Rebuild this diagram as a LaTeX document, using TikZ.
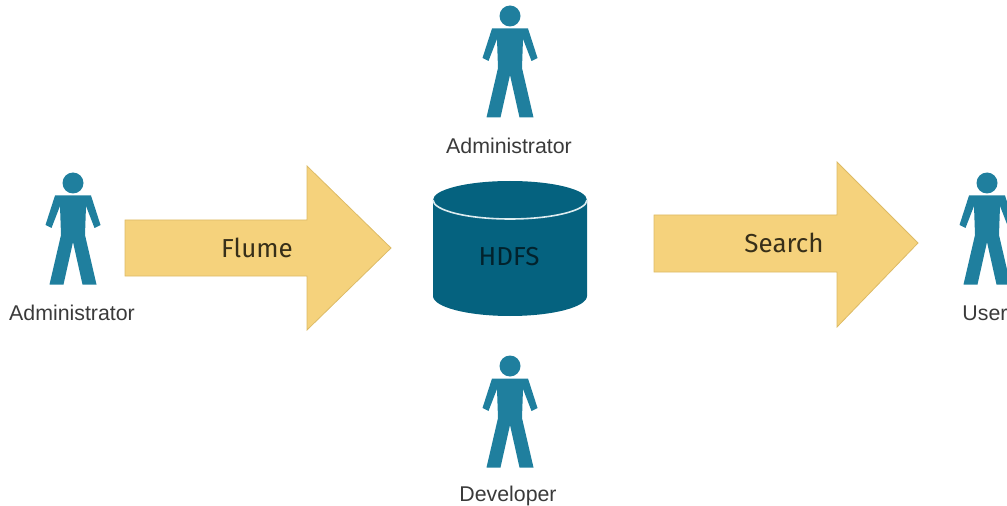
\documentclass[tikz,border=0pt]{standalone}
\usepackage{fontspec}
\setmainfont{Liberation Sans}
\newfontfamily\labelfont{Fira Sans}
\definecolor{persontone}{HTML}{1F7F9E}
\definecolor{drumtone}{HTML}{05627F}
\definecolor{arrowfill}{HTML}{F5D27C}
\definecolor{arrowline}{HTML}{DDBB66}
\definecolor{captiontone}{HTML}{3A3A3A}
\tikzset{
  person/.pic={
    \fill[persontone] (0,0) circle (10.5);
    \fill[persontone] (-18,12.5) -- (18,12.5) -- (27.5,42) -- (21.5,45) -- (13,23)
      -- (12,52) -- (23.5,101.5) -- (9.5,101.5) -- (0,59) -- (-9.5,101.5) -- (-23.5,101.5) -- (-12,52) -- (-13,23)
      -- (-21.5,45) -- (-27.5,42) -- cycle;
  },
  caption/.style={font=\fontsize{16}{18}\selectfont, text=captiontone, inner sep=0pt},
  flowtext/.style={font=\labelfont\fontsize{19.5}{22}\selectfont, text=black!75!arrowline, inner sep=0pt},
  flowarrow/.style={fill=arrowfill, draw=arrowline, line width=0.6pt, line join=miter}
}
\begin{document}
\begin{tikzpicture}[x=0.75pt, y=-0.75pt]
  \useasboundingbox (0,0) rectangle (1007,506);
  % people
  \pic at (73,183) {person};
  \pic at (510,16) {person};
  \pic at (510,366) {person};
  \begin{scope}
    \clip (0,0) rectangle (1007,506);
    \pic at (987,183) {person};
  \end{scope}
  \node[caption] (adminleft) at (72,313) {Administrator};
  \node[caption] (admintop) at (509,146) {Administrator};
  \node[caption] (developer) at (508,496) {Developer};
  \node[caption] (user) at (985,313) {User};
  % arrows
  \draw[flowarrow] (125,220) -- (307,220) -- (307,166) -- (391,248)
    -- (307,330) -- (307,276) -- (125,276) -- cycle;
  \draw[flowarrow] (654,215) -- (837,215) -- (837,162) -- (918,243)
    -- (837,327) -- (837,272) -- (654,272) -- cycle;
  \node[flowtext] (flume) at (257,248) {Flume};
  \node[flowtext] (search) at (784,243) {Search};
  % storage
  \fill[drumtone] (433,200) -- (433,296) arc[start angle=180, end angle=0, x radius=77, y radius=20]
    -- (587,200) arc[start angle=0, end angle=-180, x radius=77, y radius=19] -- cycle;
  \draw[white!85!persontone, line width=1.2pt] (433,200) arc[start angle=180, end angle=0, x radius=77, y radius=19];
  \node[flowtext, text=black!65!drumtone] (hdfs) at (509,257) {HDFS};
\end{tikzpicture}
\end{document}
